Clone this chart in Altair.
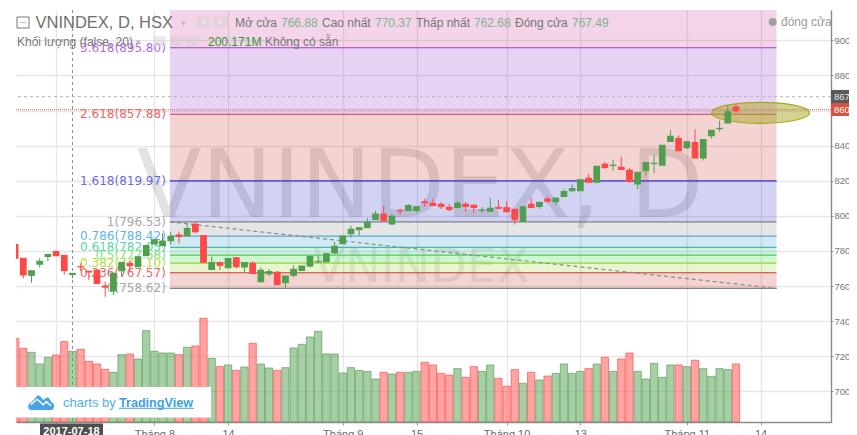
import altair as alt
import pandas as pd

first_bar = -1
opens = [783.7,775.8,766.1,772.5,776.9,779.6,777.5,766.6,771.0,768.4,768.9,760.0,757.2,768.7,772.9,771.0,777.3,784.0,783.0,785.8,
         789.1,788.7,795.1,788.7,769.5,773.3,770.4,776.1,770.8,772.9,762.5,767.0,767.8,761.9,766.1,768.9,771.4,773.8,773.9,778.8,
         784.1,789.8,792.1,793.2,798.0,801.0,795.3,802.9,803.1,803.1,808.0,807.1,806.5,804.8,804.8,806.5,806.0,803.2,802.6,804.8,
         804.6,803.7,796.8,806.5,805.4,809.6,808.0,811.1,814.3,814.3,821.4,819.1,829.3,828.7,827.6,825.9,818.1,825.7,829.8,828.8,
         842.4,844.0,838.8,841.7,833.0,845.7,849.7,852.9,862.0]
highs = [785.0,775.8,768.7,775.8,778.0,780.3,777.5,767.2,772.9,768.4,768.9,762.5,767.2,773.5,774.8,776.7,783.0,786.4,790.0,791.0,
         791.0,795.7,796.7,788.7,776.7,773.9,775.7,776.1,773.3,774.2,770.6,769.7,768.5,765.7,771.8,771.4,776.9,777.1,779.0,785.3,
         789.1,794.4,793.4,798.6,802.9,805.6,801.0,804.2,806.7,805.2,809.6,809.8,807.7,806.7,808.4,807.9,806.7,805.0,810.3,809.0,
         808.4,803.7,805.2,810.3,808.2,811.1,810.1,815.1,817.9,820.6,823.8,828.2,830.8,831.8,833.7,827.2,824.8,830.3,834.6,840.2,
         848.9,845.9,842.2,849.3,843.4,848.7,854.2,863.0,864.1]
lows = [775.0,764.4,761.9,770.5,774.1,777.3,766.3,764.4,768.6,763.4,761.5,753.9,754.9,765.3,768.2,771.0,777.3,784.0,783.0,783.4,
        784.3,788.7,790.0,773.5,769.5,769.1,770.0,770.0,767.2,767.2,762.1,765.7,760.7,758.7,764.9,768.9,770.6,773.3,773.5,778.4,
        783.9,787.5,788.7,793.2,797.6,797.2,794.8,800.5,802.7,802.2,805.2,805.6,803.9,802.5,804.4,802.3,801.4,801.8,802.4,803.9,
        802.0,795.0,796.8,804.8,804.0,807.1,806.3,811.1,813.7,814.3,819.1,819.1,827.0,825.7,826.1,818.9,815.1,822.9,824.2,828.8,
        842.4,837.1,838.1,833.0,831.5,844.0,848.0,852.5,858.4]
closes = [775.8,766.3,768.7,774.1,778.0,777.3,768.9,767.2,770.9,768.0,761.5,759.4,767.2,773.5,771.6,776.7,783.0,786.4,785.6,788.3,
          788.3,792.7,791.0,773.5,773.3,771.8,775.7,771.0,773.3,767.2,768.9,768.3,760.7,765.7,769.5,771.4,776.9,773.9,778.4,782.6,
          788.3,792.3,793.2,796.3,801.0,797.2,799.7,802.8,805.9,805.2,807.5,805.9,805.4,803.7,807.1,805.4,804.8,803.3,804.3,804.3,
          802.4,797.8,805.2,804.8,807.5,808.4,810.1,813.9,815.5,820.6,819.1,828.2,827.6,828.8,826.5,819.6,824.8,830.3,829.9,840.2,
          845.3,837.1,842.2,833.0,843.4,848.7,849.8,859.3,859.9]
volumes = [236.9,208.6,197.2,164.2,183.1,189.7,227.4,200.2,205.7,171.8,164.2,149.1,140.6,190.6,192.5,178.4,258.6,200.2,195.3,195.3,
           190.6,211.4,215.2,293.5,180.2,156.7,161.4,146.3,155.7,222.7,164.2,152.9,146.3,153.8,209.5,219.9,240.6,256.7,192.5,192.5,
           138.7,153.8,146.3,143.4,121.7,140.6,135.9,140.6,140.6,143.4,168.9,161.4,137.8,133.1,151.0,126.5,156.7,143.4,161.4,123.6,
           101.0,148.2,109.5,140.6,118.9,130.2,137.8,164.2,137.8,143.4,151.0,164.2,183.1,143.4,178.4,195.3,143.4,121.7,166.1,126.5,
           161.4,161.4,156.7,174.6,151.0,129.3,151.0,148.2,164.2]
doji_bars = [7, 36, 46, 56, 72, 77, 85]

fib_labels = ["3.618(895.80)", "2.618(857.88)", "1.618(819.97)", "1(796.53)", "0.786(788.42)",
              "0.618(782.05)", "0.5(777.58)", "0.382(773.10)", "0.236(767.57)", "0(758.62)"]
fib_levels = [895.80, 857.88, 819.97, 796.53, 788.42, 782.05, 777.58, 773.10, 767.57, 758.62]
fib_lines = ["#9c3fc4", "#cf3c4c", "#3535c8", "#80808f", "#55a8d8", "#45bba5", "#45d050", "#95d335", "#d23a2a", "#858585"]
fib_text = ["#b266e6", "#e26a6a", "#6a6ae6", "#a6a6a6", "#62b4e6", "#55d6a8", "#7ee67e", "#aee23c", "#e66a6a", "#a6a6a6"]
fib_fills = ["#8c23cd", "#c82823", "#1e23c3", "#7d7d7d", "#1e8cc3", "#1eb482", "#14cd1e", "#8ccd14", "#c82823"]
fib_top = 917.3
fib_start, fib_end = 17.9, 91.95
zone_top_fill = "#c3288c"

y_ticks = [700, 720, 740, 760, 780, 800, 820, 840, 860, 880, 900]
x_ticks = [4, 16, 25, 39, 48, 59, 68, 81, 90]
x_labels = ["", "Tháng 8", "14", "Tháng 9", "15", "Tháng 10", "13", "Tháng 11", "14"]
last_price, cross_price, cross_bar = 860.45, 867.9, 6

# ---------- frame ----------
W, H, OX, OY = 815, 412, 16, 10
UI = "Liberation Sans"
VERD = "DejaVu Sans"
Y_MIN, Y_MAX, VOL_MAX = 682.5, 917.3, 1166
xs = alt.Scale(domain=[-0.891, 98.6], nice=False, zero=False, padding=0)
ys = alt.Scale(domain=[Y_MIN, Y_MAX], nice=False, zero=False, padding=0)

x_expr = "''"
for k, v in zip(x_ticks, x_labels):
    x_expr = f"datum.value == {k} ? '{v}' : ({x_expr})"
x_axis = alt.Axis(values=x_ticks, labelExpr=x_expr, title=None, grid=True, gridColor="#e7e7e7", gridWidth=1.4,
                  domainColor="#8a8a8a", domainWidth=1.4, tickColor="#999999", tickSize=3, labelColor="#6a6a6a",
                  labelFont=UI, labelFontSize=11, labelPadding=3, labelFlush=False, labelOverlap=False)
y_axis = alt.Axis(values=y_ticks, format="d", orient="right", title=None, grid=True, gridColor="#e7e7e7", gridWidth=1.4,
                  domainColor="#8a8a8a", domainWidth=1.4, tickColor="#999999", tickSize=2, labelColor="#777777",
                  labelFont=UI, labelFontSize=9.5, labelPadding=1, labelFlush=False, labelOverlap=False)

bars = pd.DataFrame({"i": list(range(first_bar, first_bar + len(opens))), "o": opens, "h": highs, "l": lows,
                     "c": closes, "v": volumes})
bars["top"] = bars[["o", "c"]].max(axis=1)
bars["bot"] = bars[["o", "c"]].min(axis=1)
bars["kind"] = ["up" if c >= o else "down" for o, c in zip(opens, closes)]
bars["style"] = [("doji" + k) if i in doji_bars else k for i, k in zip(bars["i"], bars["kind"])]
bars["vy"] = Y_MIN + bars["v"] * (Y_MAX - Y_MIN) / VOL_MAX
bars["vb"] = Y_MIN

one = pd.DataFrame({"a": [0]})
X = alt.X("x:Q", scale=xs, axis=x_axis)
XI = alt.X("i:Q", scale=xs, axis=x_axis)
Y = alt.Y("y:Q", scale=ys, axis=y_axis)


def box(x0, x1, y0, y1, **kw):
    return alt.Chart(one).mark_rect(**kw).encode(x=alt.value(x0 - OX), x2=alt.value(x1 - OX),
                                                 y=alt.value(y0 - OY), y2=alt.value(y1 - OY))


def txt(s, x, y, color="#777777", size=12, font=UI, align="left", **kw):
    return alt.Chart(one).mark_text(text=s, align=align, baseline="middle", color=color, fontSize=size, font=font, **kw).encode(
        x=alt.value(x - OX), y=alt.value(y - OY))


def dot(x, y, size, **kw):
    return alt.Chart(one).mark_point(filled=True, size=size, **kw).encode(x=alt.value(x - OX), y=alt.value(y - OY))


layers = []

# watermarks
layers.append(alt.Chart(one).mark_text(text="VNINDEX, D", font=VERD, fontSize=95, color="#000000", opacity=0.11,
                                       align="center", baseline="alphabetic").encode(
    x=alt.value(420 - OX), y=alt.value(217 - OY)))
layers.append(alt.Chart(one).mark_text(text="VNINDEX", font=VERD, fontSize=47.5, color="#000000", opacity=0.07,
                                       align="center", baseline="alphabetic").encode(
    x=alt.value(421 - OX), y=alt.value(282 - OY)))

# fib zones
zones = pd.DataFrame({"x": fib_start, "x2": fib_end, "y": [fib_top] + fib_levels[:-1], "y2": fib_levels,
                      "f": [zone_top_fill] + fib_fills})
layers.append(alt.Chart(zones).mark_rect(opacity=0.2).encode(x=X, x2="x2:Q", y=Y, y2="y2:Q", fill=alt.Fill("f:N", scale=None)))
rules = pd.DataFrame({"x": fib_start, "x2": fib_end, "y": fib_levels, "col": fib_lines})
layers.append(alt.Chart(rules).mark_rule(strokeWidth=1.2).encode(x=X, x2="x2:Q", y=Y, stroke=alt.Stroke("col:N", scale=None)))
flabels = pd.DataFrame({"x": 17.4, "y": fib_levels, "t": fib_labels, "col": fib_text})
layers.append(alt.Chart(flabels).mark_text(align="right", baseline="middle", font=VERD, fontSize=12).encode(
    x=X, y=Y, text="t:N", color=alt.Color("col:N", scale=None)))

# ellipse
ellipse = "M-1,0 A1,0.215 0 1,1 1,0 A1,0.215 0 1,1 -1,0 Z"
layers.append(alt.Chart(pd.DataFrame({"x": [90], "y": [858.7]})).mark_point(
    shape=ellipse, size=9604, filled=True, fill="#a8a828", fillOpacity=0.5, stroke="#a8a820", strokeWidth=1.2, opacity=1
).encode(x=X, y=Y))

# crosshair + price lines
layers.append(alt.Chart(pd.DataFrame({"x": [cross_bar]})).mark_rule(color="#8a8a8a", strokeDash=[3, 3], strokeWidth=1).encode(x=X))
layers.append(alt.Chart(pd.DataFrame({"y": [cross_price]})).mark_rule(color="#b5b5b5", strokeDash=[3, 3], strokeWidth=1).encode(y=Y))
layers.append(alt.Chart(pd.DataFrame({"y": [last_price]})).mark_rule(color="#e0604e", strokeDash=[1, 1], strokeWidth=1.2).encode(y=Y))

# trend line
trend = pd.DataFrame({"x": [fib_start], "x2": [fib_end], "y": [fib_levels[3]], "y2": [fib_levels[-1]]})
layers.append(alt.Chart(trend).mark_rule(color="#8c8c8c", strokeDash=[4, 3], strokeWidth=1.2).encode(x=X, x2="x2:Q", y=Y, y2="y2:Q"))

# volume
vol_scale = alt.Scale(domain=["up", "down"], range=["#519e4f", "#ff4848"])
layers.append(alt.Chart(bars).mark_bar(size=7.3, clip=True, orient="vertical", fillOpacity=0.5, strokeOpacity=0.65, strokeWidth=1).encode(
    x=XI, y=alt.Y("vy:Q", scale=ys, axis=y_axis), y2="vb:Q",
    fill=alt.Fill("kind:N", scale=vol_scale, legend=None), stroke=alt.Stroke("kind:N", scale=vol_scale, legend=None)))

# candles
styles = ["up", "down", "dojiup", "dojidown"]
layers.append(alt.Chart(bars).mark_rule(clip=True, strokeWidth=1).encode(
    x=XI, y=alt.Y("l:Q", scale=ys, axis=y_axis), y2="h:Q",
    stroke=alt.Stroke("style:N", scale=alt.Scale(domain=styles, range=["#8c8c8c", "#8c8c8c", "#8fb3a0", "#d99a90"]), legend=None)))
layers.append(alt.Chart(bars).mark_bar(size=5.6, clip=True, orient="vertical", strokeWidth=1.1).encode(
    x=XI, y=alt.Y("top:Q", scale=ys, axis=y_axis), y2="bot:Q",
    fill=alt.Fill("style:N", scale=alt.Scale(domain=styles, range=["#5c9f7c", "#d4492f", "#7fae95", "#d98a80"]), legend=None),
    stroke=alt.Stroke("style:N", scale=alt.Scale(domain=styles, range=["#2c6e4e", "#702a1e", "#7fae95", "#d98a80"]), legend=None)))

# header
layers += [
    box(17, 29, 17, 28, fill="#ffffff", fillOpacity=0, stroke="#777777", strokeWidth=1),
    box(20, 26, 22.5, 23, fill="#777777"),
    txt("VNINDEX, D, HSX", 35.5, 22.5, color="#707070", size=16.5),
    txt("▾", 183, 23, color="#bbbbbb", size=9, align="center"),
    box(197, 210, 16, 28, fill="#d8d0d4", opacity=0.55),
    box(213, 228, 16, 28, fill="#d8d0d4", opacity=0.55),
    dot(203.5, 22, 14, color="#f6eef2"),
    dot(220.5, 22, 14, color="#f6eef2"),
    txt("Mở cửa", 235, 22.5), txt("766.88", 281, 22.5, color="#7fb295"),
    txt("Cao nhất", 322, 22.5), txt("770.37", 375, 22.5, color="#7fb295"),
    txt("Thấp nhất", 416, 22.5), txt("762.68", 474, 22.5, color="#7fb295"),
    txt("Đóng cửa", 515, 22.5), txt("767.49", 572, 22.5, color="#7fb295"),
    dot(772.7, 22, 64, color="#a0a0a0", opacity=1),
    txt("đóng cửa", 781, 21.5, color="#9a9a9a"),
    txt("Khối lượng (false, 20)", 17, 41.5),
    txt("▾", 138, 42, color="#bbbbbb", size=9, align="center"),
    box(153, 166, 36, 47, fill="#d8d8d8", opacity=0.55),
    box(170, 183, 36, 47, fill="#d8d0d4", opacity=0.55),
    box(186, 199, 36, 47, fill="#d8d0d4", opacity=0.55),
    txt("200.171M", 208, 42, color="#2f9a2f"),
    txt("Không có sẵn", 265, 42),
]

# price tags
layers += [
    box(831, 849, 90, 103, fill="#5a5a5a"),
    txt("867", 834, 97, color="#e8e8e8", size=9.5),
    box(831, 849, 103, 116, fill="#db5340"),
    txt("860", 834, 110, color="#ffffff", size=9.5),
    box(40, 103, 423.5, 436, fill="#4f4f4f"),
    txt("2017-07-18", 71.5, 432, color="#ffffff", size=11, align="center", fontWeight="bold"),
]

# TradingView badge
cloud = ("M-0.8,0.72 C-1.08,0.72 -1.12,0.2 -0.78,0.12 L-0.38,-0.35 C-0.28,-0.47 -0.12,-0.47 -0.02,-0.33 "
         "L0.2,-0.08 L0.36,-0.22 C0.48,-0.32 0.62,-0.28 0.7,-0.15 L0.86,0.12 C1.15,0.2 1.08,0.72 0.8,0.72 Z")
zig = "M-0.82,0.3 L-0.32,-0.14 L0.18,0.3 L0.42,0.05 L0.8,0.38"
layers += [
    box(16, 211, 387, 417.5, fill="#ffffff"),
    alt.Chart(one).mark_point(shape=cloud, size=625, filled=True, color="#45a5e5", opacity=1).encode(
        x=alt.value(41 - OX), y=alt.value(401 - OY)),
    alt.Chart(one).mark_point(shape=zig, size=625, filled=False, color="#ffffff", strokeWidth=1.5, opacity=1).encode(
        x=alt.value(41 - OX), y=alt.value(401 - OY)),
    txt("charts by", 63, 402.5, color="#52aee6", size=13),
    txt("TradingView", 119, 402.5, color="#3b9fe0", size=12.6, fontWeight="bold"),
    box(119, 194, 407.7, 408.7, fill="#3b9fe0"),
]

chart = alt.layer(*layers).properties(
    width=W, height=H,
    padding={"left": 8, "top": 2, "right": 18, "bottom": 13},
    autosize=alt.AutoSizeParams(type="none", contains="content"),
    background="#ffffff",
).configure_view(stroke=None)

chart.save("out.html", embed_options={"renderer": "svg", "actions": False})
